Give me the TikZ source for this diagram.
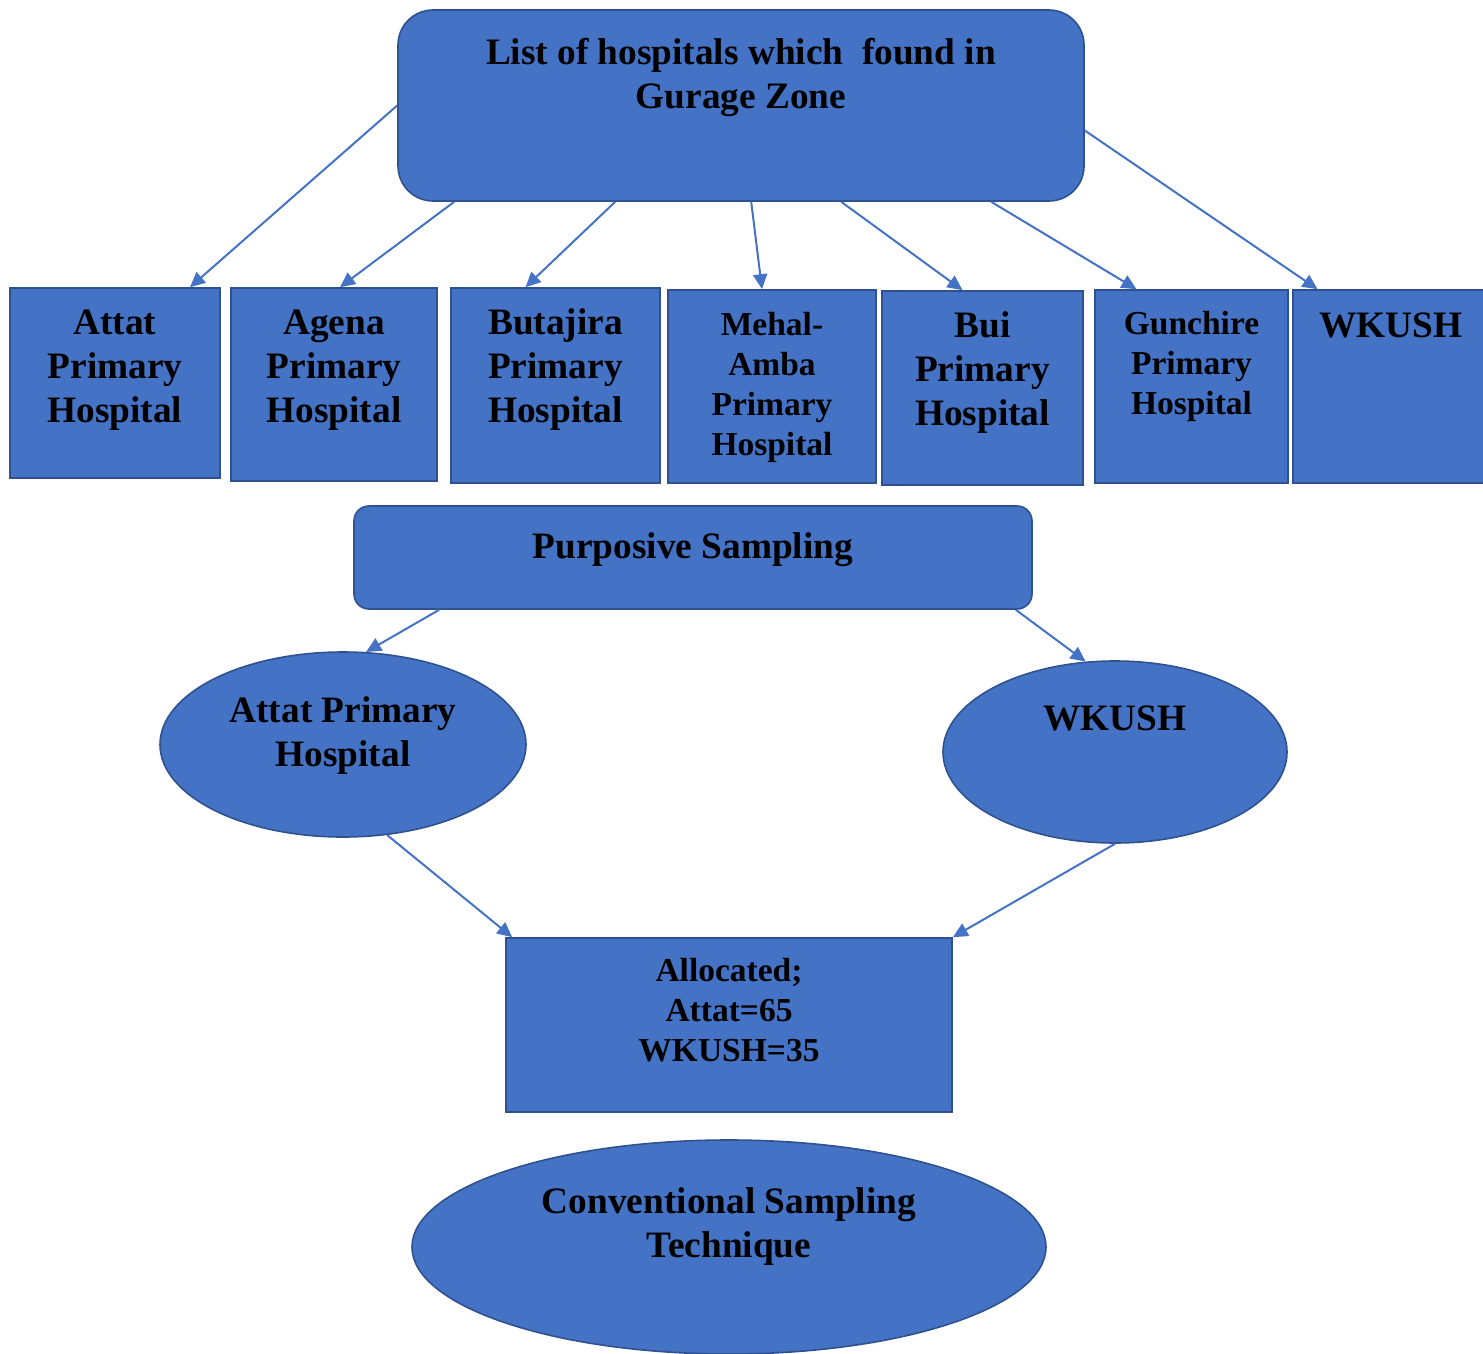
\documentclass[tikz,border=0pt]{standalone}
\usepackage{fontspec}
\setmainfont{Liberation Serif}
\usetikzlibrary{arrows.meta,shapes.geometric}

\definecolor{boxfill}{HTML}{4472C4}
\definecolor{boxline}{HTML}{2F528F}

% text block sitting at the top of a shape: width, height, first baseline, text
\newcommand{\boxtext}[4]{\parbox[c][#2pt][t]{#1pt}{\centering\rule{0pt}{#3pt}#4}}

\begin{document}
\begin{tikzpicture}[x=1pt,y=-1pt,
		every node/.style={inner sep=0pt,font=\fontsize{37.3}{44}\selectfont\bfseries},
		hosp/.style={rectangle,draw=boxline,fill=boxfill,line width=1.6pt},
		roundbox/.style={hosp,rounded corners=#1},
		oval/.style={ellipse,draw=boxline,fill=boxfill,line width=1.6pt},
		small/.style={font=\fontsize{33.5}{40}\selectfont\bfseries},
		link/.style={draw=boxfill,line width=2pt,-{Triangle[length=15pt,width=14pt]}}]
	\useasboundingbox (0,0) rectangle (1483,1354);

	\node [roundbox=35pt] (list) at (741,105.5) {\boxtext{686}{191}{54}{List of hospitals which~ found in\\Gurage Zone}};

	\node [hosp] (attat) at (115,383) {\boxtext{210}{190}{46}{Attat\\Primary\\Hospital}};
	\node [hosp] (agena) at (334,384.5) {\boxtext{206}{193}{46}{Agena\\Primary\\Hospital}};
	\node [hosp] (buta) at (555.5,385.5) {\boxtext{209}{195}{46}{Butajira\\Primary\\Hospital}};
	\node [hosp,small] (mehal) at (772,386.5) {\boxtext{208}{193}{45}{Mehal-\\Amba\\Primary\\Hospital}};
	\node [hosp] (bui) at (982.5,388) {\boxtext{201}{194}{46}{Bui\\Primary\\Hospital}};
	\node [hosp,small] (gunch) at (1191.5,386.5) {\boxtext{193}{193}{44}{Gunchire\\Primary\\Hospital}};
	\node [hosp] (wkush) at (1390.5,386.5) {\boxtext{195}{193}{47}{WKUSH}};

	\node [roundbox=15pt] (purp) at (693,557.5) {\boxtext{678}{103}{52}{Purposive Sampling}};

	\node [oval,minimum width=366pt,minimum height=185pt] (attE) at (343,744.5) {\boxtext{240}{100}{28}{Attat Primary\\Hospital}};
	\node [oval,minimum width=344pt,minimum height=182pt] (wkE) at (1115,752) {\boxtext{160}{120}{38}{WKUSH}};

	\node [hosp,small] (alloc) at (729,1025) {\boxtext{446}{174}{43}{Allocated;\\Attat=65\\WKUSH=35}};

	\node [oval,minimum width=634pt,minimum height=214pt] (conv) at (729,1247) {\boxtext{400}{130}{31}{Conventional Sampling\\Technique}};

	% hospitals in the zone
	\draw [link] (list.west) -- ([xshift=75pt]attat.north);
	\draw [link] ([xshift=57pt]list.south west) -- ([xshift=6pt]agena.north);
	\draw [link] ([xshift=218pt]list.south west) -- ([xshift=-30pt]buta.north);
	\draw [link] ([xshift=354pt]list.south west) -- ([xshift=-10pt]mehal.north);
	\draw [link] ([xshift=444pt]list.south west) -- ([xshift=-20pt]bui.north);
	\draw [link] ([xshift=594pt]list.south west) -- ([xshift=-55pt]gunch.north);
	\draw [link] ([yshift=-25pt]list.east) -- ([xshift=-73pt]wkush.north);

	% sampling
	\draw [link] ([xshift=86pt]purp.south west) -- (attE.76);
	\draw [link] ([xshift=-17pt]purp.south east) -- (wkE.108);
	\draw [link] (attE.-64) -- ([xshift=7pt]alloc.north west);
	\draw [link] (wkE.south) -- (alloc.north east);
\end{tikzpicture}
\end{document}
